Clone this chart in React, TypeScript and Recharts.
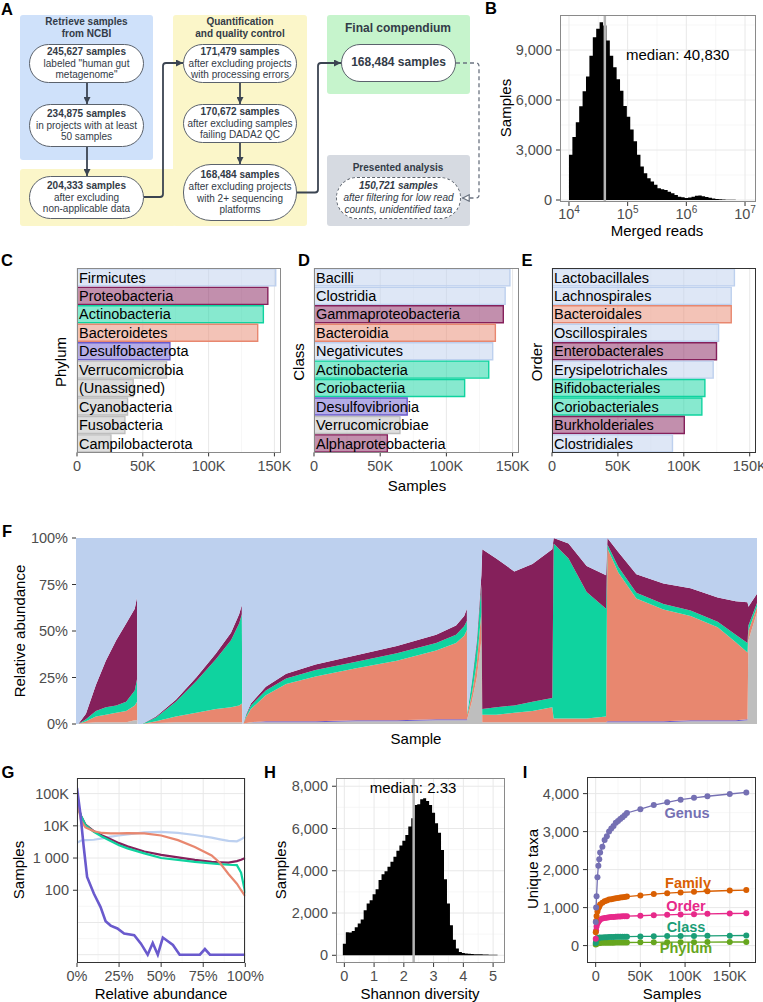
import React from 'react'
import {
  AreaChart, Area, BarChart, Bar, Cell, LabelList, LineChart, Line,
  XAxis, YAxis, CartesianGrid, ReferenceLine,
} from 'recharts'

const FONT = '"Liberation Sans", Arial, Helvetica, sans-serif'

// taxon colours (F uses them solid, C/D/E at half opacity)
const TAXA_COL: Record<string, string> = {
  fir: '#bdd0ee', pro: '#85205b', act: '#0fd39f', bac: '#e8876f', des: '#6a5acd', oth: '#bebebe',
}

// ---- B: merged reads histogram (log10 bins)
const readsBinStart = 4.0
const readsBinWidth = 0.058
const readsCounts = [
  2710, 3780, 4670, 5630, 6520, 7410, 8660, 9770, 10270, 10670,
  10470, 9570, 8660, 7960, 7250, 6550, 5640, 5000, 4230, 3530,
  2720, 2010, 1610, 1310, 1110, 910, 710, 650, 600, 500,
  400, 300, 200, 160, 120, 150, 200, 250, 270, 230,
  180, 130, 90, 60, 40, 30, 20, 15, 10, 5,
]
const readsMedian = 40830

// ---- C/D/E: samples containing each taxon
const phylumNames = ['Firmicutes', 'Proteobacteria', 'Actinobacteria', 'Bacteroidetes', 'Desulfobacterota', 'Verrucomicrobia', '(Unassigned)', 'Cyanobacteria', 'Fusobacteria', 'Campilobacterota']
const phylumSamples = [151000, 145000, 141600, 137300, 70600, 68000, 42700, 38400, 36400, 25800]
const phylumGroup = ['fir', 'pro', 'act', 'bac', 'des', 'oth', 'oth', 'oth', 'oth', 'oth']

const classNames = ['Bacilli', 'Clostridia', 'Gammaproteobacteria', 'Bacteroidia', 'Negativicutes', 'Actinobacteria', 'Coriobacteriia', 'Desulfovibrionia', 'Verrucomicrobiae', 'Alphaproteobacteria']
const classSamples = [148000, 144400, 143000, 137000, 135000, 132000, 113800, 70400, 64900, 55400]
const classGroup = ['fir', 'fir', 'pro', 'bac', 'fir', 'act', 'act', 'des', 'oth', 'pro']

const orderNames = ['Lactobacillales', 'Lachnospirales', 'Bacteroidales', 'Oscillospirales', 'Enterobacterales', 'Erysipelotrichales', 'Bifidobacteriales', 'Coriobacteriales', 'Burkholderiales', 'Clostridiales']
const orderSamples = [138400, 136000, 136000, 126400, 124800, 122300, 116000, 113700, 100400, 91400]
const orderGroup = ['fir', 'fir', 'bac', 'fir', 'pro', 'fir', 'act', 'act', 'pro', 'fir']

// ---- F: relative abundance per sample (samples in thousands, % per phylum)
const fSample = [0, 0.5, 2.2, 4.4, 6.6, 8.9, 11.1, 13.0, 13.5, 13.6, 14.6, 17.7, 22.1, 26.6, 31.0, 34.3, 36.1, 36.7, 36.8, 37.0, 37.6, 38.7, 42, 46.5, 53, 62, 71, 79.7, 84.1, 85.9, 86.5, 86.6, 87.6, 88.7, 89.7, 89.9, 93, 97, 101, 105.4, 105.7, 109, 113, 117.3, 117.6, 120, 124, 130, 136, 142, 146, 148.6, 148.8, 150.7]
const fOther = [0, 0, 0.5, 1, 1, 1, 1, 2, 2, 0, 0, 0.5, 1, 1, 1, 1, 1, 1, 0, 0, 0.5, 1, 1, 1, 1, 1.5, 1.5, 2, 2, 2, 2, 3, 12, 25, 45, 1, 1, 1, 1, 1, 1, 1, 1, 1, 1, 1, 1, 1, 1.5, 1.5, 1.5, 2, 45, 60]
const fDesulfo = [0, 0, 0, 0, 0, 0, 0, 0, 0, 0, 0, 0, 0, 0, 0, 0, 0, 0, 0, 0, 0, 0, 0.5, 0.5, 0.5, 0.5, 0.5, 0.5, 0.5, 0.5, 0.5, 0, 0, 0, 0, 0, 0, 0, 0, 0, 0, 0, 0, 0, 0.5, 0.5, 0.5, 0.5, 0.5, 0.5, 0.5, 0.5, 0, 0]
const fBactero = [0, 0, 1, 3, 4, 5, 6, 8, 10, 0, 0, 1, 3, 5, 7, 8, 9, 10, 0, 0, 3, 7, 14, 20, 24, 28, 32, 37, 41, 45, 48, 2, 4, 8, 15, 4, 4, 5, 6, 8, 2, 2, 2, 3, 93, 80, 66, 60, 56, 50, 42, 36, 5, 3]
const fActino = [0, 0, 1, 3, 4, 4, 5, 8, 12, 0, 0, 2, 8, 17, 27, 36, 44, 48, 0, 0, 1, 2, 2.5, 3, 3.5, 3.5, 4, 4, 4.5, 5, 5, 1, 6, 10, 15, 3, 4, 4, 5, 5, 94, 86, 68, 58, 2, 3, 3, 3, 3, 3, 4, 5, 3, 2]
const fProteo = [0, 0, 3, 14, 25, 35, 42, 44, 44, 0, 0, 0.5, 1, 2, 3, 4, 5, 5, 0, 0, 0.5, 1, 2, 2.5, 3, 3.5, 4, 4.5, 5, 5.5, 6.5, 0, 1, 2, 5, 86, 80, 72, 74, 80, 3, 8, 14, 18, 3.5, 8, 10, 11, 12, 13, 18, 22, 10, 5]
const fFirmi = [100, 100, 94.5, 79, 66, 55, 46, 38, 32, 100, 100, 96, 87, 75, 62, 51, 41, 36, 100, 100, 95, 89, 80, 73, 68, 63, 58, 52, 47, 42, 38, 94, 77, 55, 20, 6, 11, 18, 14, 6, 0, 3, 15, 20, 0, 7.5, 19.5, 24.5, 27, 32, 34, 34.5, 37, 30]

// ---- G: samples per relative-abundance level
const gAbund = [0, 2.5, 5, 10, 15, 20, 25, 30, 40, 50, 60, 70, 80, 85, 90, 95, 97.5, 100]
const gFirmi = [3000, 3500, 3600, 3700, 4100, 4600, 5000, 5400, 6300, 6500, 6000, 5200, 4300, 3800, 3400, 3300, 3800, 4600]
const gProteo = [50000, 20000, 11000, 6800, 5000, 3800, 2900, 2300, 1600, 1250, 1050, 880, 760, 740, 720, 800, 880, 1000]
const gActino = [40000, 20000, 10500, 6500, 4600, 3400, 2500, 2000, 1400, 1000, 880, 760, 680, 650, 620, 600, 350, 80]
const gBactero = [60000, 14000, 9000, 6800, 6000, 5800, 5800, 5900, 5800, 5000, 3600, 2200, 1200, 700, 320, 160, 100, 65]
const gDesulfoAbund = [0, 2, 4, 6, 10, 14, 17, 20, 24, 28, 34, 38, 42, 45, 48, 51, 57, 61, 73, 76, 79, 100]
const gDesulfo = [150000, 24000, 2200, 260, 79, 30, 11, 8, 6.5, 4.5, 4, 2.2, 1, 2.3, 1, 3.4, 2, 1, 1, 1.5, 1, 1]

// ---- H: Shannon diversity histogram
const shannonBinStart = -0.05
const shannonBinWidth = 0.1
const shannonCounts = [
  550, 1090, 1075, 1150, 1330, 1500, 1690, 2130, 2450, 2610,
  2890, 3130, 3560, 3830, 3980, 4190, 4430, 4660, 4950, 5190,
  5420, 5690, 6090, 6480, 7110, 7150, 7380, 7430, 7300, 7110,
  6750, 6250, 5800, 4980, 3600, 2450, 1420, 740, 320, 160,
  110, 80, 70, 60, 55, 50, 45, 40, 35, 30, 25, 20,
]
const shannonMedian = 2.33

// ---- I: unique taxa vs number of samples
const iSamples = [100, 500, 1000, 2000, 3000, 4000, 5000, 7500, 10000, 12500, 15000, 17500, 20000, 22500, 25000, 27500, 30000, 32500, 35000, 50000, 65000, 80000, 95000, 110000, 125000, 150000, 168484]
const iGenus = [620, 1000, 1300, 1800, 2100, 2270, 2450, 2600, 2780, 2880, 3000, 3080, 3150, 3230, 3280, 3330, 3380, 3430, 3490, 3590, 3700, 3770, 3840, 3890, 3930, 3990, 4030]
const iFamily = [350, 650, 780, 900, 980, 1030, 1080, 1130, 1170, 1190, 1210, 1220, 1235, 1245, 1255, 1265, 1275, 1280, 1290, 1320, 1355, 1380, 1400, 1415, 1430, 1450, 1460]
const iOrder = [180, 400, 500, 580, 630, 660, 690, 710, 725, 735, 745, 750, 755, 760, 765, 768, 770, 773, 775, 785, 800, 810, 820, 828, 835, 845, 850]
const iClass = [70, 130, 160, 185, 200, 205, 210, 215, 220, 222, 225, 227, 228, 230, 231, 232, 233, 234, 235, 240, 245, 250, 252, 255, 258, 262, 265]
const iPhylum = [30, 45, 52, 60, 64, 67, 70, 73, 75, 76, 77, 78, 78, 79, 79, 80, 80, 81, 82, 85, 87, 89, 90, 91, 92, 94, 95]

const I_COL = { genus: '#7570b3', family: '#d95f02', order: '#e7298a', class: '#1b9e77', phylum: '#66a61e' }

// ---------- helpers
const YW = 52
const XH = 26
const MT = 12
const MR = 22

function frame(l: number, t: number, r: number, b: number) {
  return {
    wrap: { position: 'absolute', left: l - YW, top: t - MT } as React.CSSProperties,
    width: YW + (r - l) + MR,
    height: MT + (b - t) + XH,
    margin: { top: MT, right: MR, bottom: 0, left: 0 },
  }
}

const tickStyle = { fill: '#4d4d4d', fontSize: 14.5 }
const tickLine = { stroke: '#333' }
const xAx = { tickSize: 4, tickMargin: 4, axisLine: false, tickLine, tick: tickStyle, height: XH, interval: 0 as const, allowDataOverflow: true }
const yAx = { tickSize: 4, tickMargin: 4, axisLine: false, tickLine, tick: tickStyle, width: YW, interval: 0 as const, allowDataOverflow: true }

const comma = (v: number) => v.toLocaleString('en-US')
const kfmt = (v: number) => (v === 0 ? '0' : `${v / 1000}K`)

function T({ x, y, children, size = 15, rot = 0, color = '#000', bold = false, italic = false, anchor = 'middle' }: any) {
  const tx = anchor === 'middle' ? '-50%' : anchor === 'end' ? '-100%' : '0'
  return (
    <div style={{
      position: 'absolute', left: x, top: y, transform: `translate(${tx},-50%) rotate(${rot}deg)`,
      fontSize: size, lineHeight: 1, color, fontWeight: bold ? 700 : 400,
      fontStyle: italic ? 'italic' : 'normal', whiteSpace: 'nowrap',
    }}>{children}</div>
  )
}

function Border({ l, t, r, b, color = '#8a8a8a', w = 1.5 }: any) {
  return <div style={{ position: 'absolute', left: l, top: t, width: r - l, height: b - t, border: `${w}px solid ${color}`, boxSizing: 'border-box', pointerEvents: 'none' }} />
}

function PowTick(props: any) {
  const { x, y, payload } = props
  return (
    <text x={x} y={y} dy="0.71em" textAnchor="middle" fill="#4d4d4d" fontSize={14.5}>
      10<tspan dy={-6} fontSize={10}>{payload.value}</tspan>
    </text>
  )
}

// ---------- A: flowchart
const SLATE = '#333b47'

function Pill({ l, t, w, h, lines, dashed = false, italic = false, size = 10 }: any) {
  return (
    <div style={{
      position: 'absolute', left: l, top: t, width: w, height: h, boxSizing: 'border-box',
      background: '#fff', border: `1px ${dashed ? 'dashed' : 'solid'} #5b626c`, borderRadius: 28,
      display: 'flex', flexDirection: 'column', alignItems: 'center', justifyContent: 'center',
      color: SLATE, fontSize: size, lineHeight: '11.7px', fontStyle: italic ? 'italic' : 'normal', textAlign: 'center',
    }}>
      {lines.map((s: string, i: number) => (
        <div key={i} style={{ fontWeight: i === 0 ? 700 : 400, whiteSpace: 'nowrap' }}>{s}</div>
      ))}
    </div>
  )
}

function Box({ l, t, r, b, bg }: any) {
  return <div style={{ position: 'absolute', left: l, top: t, width: r - l, height: b - t, background: bg, borderRadius: 3 }} />
}

function Flowchart() {
  return (
    <>
      <Box l={20} t={15} r={153} b={160} bg="#cfe1fa" />
      <Box l={173} t={15} r={307} b={226} bg="#fbf6c9" />
      <Box l={20} t={169} r={176} b={226} bg="#fbf6c9" />
      <Box l={327} t={15} r={470} b={94} bg="#c6f4cc" />
      <Box l={327} t={155} r={470} b={226} bg="#d6dae1" />
      <div style={{ position: 'absolute', left: 20, top: 16, width: 133, textAlign: 'center', fontSize: 10, lineHeight: '11.5px', fontWeight: 700, color: SLATE }}>Retrieve samples<br />from NCBI</div>
      <div style={{ position: 'absolute', left: 173, top: 16, width: 134, textAlign: 'center', fontSize: 10, lineHeight: '11.5px', fontWeight: 700, color: SLATE }}>Quantification<br />and quality control</div>
      <T x={398} y={28} size={12} bold color={SLATE}>Final compendium</T>
      <T x={398} y={168} size={10} bold color={SLATE}>Presented analysis</T>
      <Pill l={29} t={44} w={115} h={39} lines={['245,627 samples', 'labeled "human gut', 'metagenome"']} />
      <Pill l={29} t={104} w={115} h={43} lines={['234,875 samples', 'in projects with at least', '50 samples']} />
      <Pill l={29} t={176} w={115} h={43} lines={['204,333 samples', 'after excluding', 'non-applicable data']} />
      <Pill l={183} t={44} w={114} h={39} lines={['171,479 samples', 'after excluding projects', 'with processing errors']} />
      <Pill l={183} t={104} w={114} h={39} lines={['170,672 samples', 'after excluding samples', 'failing DADA2 QC']} />
      <Pill l={183} t={164} w={114} h={57} lines={['168,484 samples', 'after excluding projects', 'with 2+ sequencing', 'platforms']} />
      <Pill l={341} t={44} w={115} h={38} size={12} lines={['168,484 samples']} />
      <Pill l={336} t={177} w={125} h={42} dashed italic lines={['150,721 samples', 'after filtering for low read', 'counts, unidentified taxa']} />
      <svg width={490} height={230} style={{ position: 'absolute', left: 0, top: 0, overflow: 'visible' }}>
        <defs>
          <marker id="ah" viewBox="0 0 10 10" refX="10" refY="5" markerWidth="7" markerHeight="7" markerUnits="userSpaceOnUse" orient="auto">
            <path d="M0,0 L10,5 L0,10 z" fill="#3b4451" />
          </marker>
          <marker id="ah2" viewBox="0 0 10 10" refX="10" refY="5" markerWidth="8" markerHeight="8" markerUnits="userSpaceOnUse" orient="auto">
            <path d="M1,1 L9,5 L1,9 z" fill="#fff" stroke="#6b7380" strokeWidth="1.5" />
          </marker>
        </defs>
        <g fill="none" stroke="#3b4451" strokeWidth={1.8}>
          <path d="M87,83 V104" markerEnd="url(#ah)" />
          <path d="M87,147 V176" markerEnd="url(#ah)" />
          <path d="M240,83 V104" markerEnd="url(#ah)" />
          <path d="M240,143 V164" markerEnd="url(#ah)" />
          <path d="M144,197 H160 Q163,197 163,194 V66 Q163,63 166,63 H183" markerEnd="url(#ah)" />
          <path d="M297,192.5 H315 Q318,192.5 318,189.5 V66 Q318,63 321,63 H341" markerEnd="url(#ah)" />
        </g>
        <path d="M456,63 H476 Q479,63 479,66 V195 Q479,198 476,198 H462" fill="none" stroke="#6b7380" strokeWidth={1.3} strokeDasharray="4 3" markerEnd="url(#ah2)" />
      </svg>
    </>
  )
}

// ---------- B
function PanelB() {
  const f = frame(560, 15, 756, 202)
  const data = readsCounts.map((n, i) => ({ lx: readsBinStart + i * readsBinWidth, n }))
  data.push({ lx: readsBinStart + readsCounts.length * readsBinWidth, n: readsCounts[readsCounts.length - 1] })
  return (
    <div style={f.wrap}>
      <AreaChart width={f.width} height={f.height} margin={f.margin} data={data}>
        <CartesianGrid verticalValues={[4.5, 5.5, 6.5]} horizontalValues={[1500, 4500, 7500, 10500]} stroke="#f3f3f3" strokeWidth={0.7} />
        <CartesianGrid verticalValues={[4, 5, 6, 7]} horizontalValues={[0, 3000, 6000, 9000]} stroke="#e8e8e8" />
        <XAxis type="number" dataKey="lx" domain={[3.847, 7.187]} ticks={[4, 5, 6, 7]} {...xAx} tickMargin={3} tick={<PowTick />} />
        <YAxis type="number" domain={[-120, 11100]} ticks={[0, 3000, 6000, 9000]} tickFormatter={comma} {...yAx} />
        <Area type="stepAfter" dataKey="n" baseValue={0} fill="#000" fillOpacity={1} stroke="none" isAnimationActive={false} />
        <ReferenceLine x={Math.log10(readsMedian)} stroke="#b5b5b5" strokeWidth={2.5} />
      </AreaChart>
    </div>
  )
}

// ---------- C/D/E
function TaxaBars({ names, samples, groups, l, r }: any) {
  const f = frame(l, 268.3, r, 452.7)
  const data = names.map((name: string, i: number) => ({ name, n: samples[i], g: groups[i] }))
  return (
    <div style={f.wrap}>
      <BarChart layout="vertical" width={f.width} height={f.height} margin={f.margin} data={data} barCategoryGap="5%">
        <CartesianGrid horizontal={false} verticalValues={[25000, 75000, 125000]} stroke="#f3f3f3" strokeWidth={0.7} />
        <CartesianGrid horizontal={false} verticalValues={[0, 50000, 100000, 150000]} stroke="#e8e8e8" />
        <XAxis type="number" domain={[0, 155000]} ticks={[0, 50000, 100000, 150000]} tickFormatter={kfmt} {...xAx} />
        <YAxis type="category" dataKey="name" width={YW} tick={false} tickLine={false} axisLine={false} />
        <Bar dataKey="n" isAnimationActive={false}>
          {data.map((d: any, i: number) => (
            <Cell key={i} fill={TAXA_COL[d.g]} fillOpacity={0.5} stroke={TAXA_COL[d.g]} strokeWidth={1.4} />
          ))}
          <LabelList dataKey="name" position="insideLeft" offset={2} fill="#000" stroke="none" fontSize={14.5} />
        </Bar>
      </BarChart>
    </div>
  )
}

// ---------- F
function PanelF() {
  const f = frame(76, 538.3, 757, 724.3)
  const data = fSample.map((x, i) => ({
    x, oth: fOther[i], des: fDesulfo[i], bac: fBactero[i], act: fActino[i], pro: fProteo[i], fir: fFirmi[i],
  }))
  const layers = ['oth', 'des', 'bac', 'act', 'pro', 'fir']
  return (
    <div style={f.wrap}>
      <AreaChart width={f.width} height={f.height} margin={f.margin} data={data}>
        <XAxis type="number" dataKey="x" domain={[0, 150.7]} tick={false} tickLine={false} axisLine={false} height={XH} allowDataOverflow />
        <YAxis type="number" domain={[0, 100]} ticks={[0, 25, 50, 75, 100]} tickFormatter={(v: number) => `${v}%`} {...yAx} />
        {layers.map((k) => (
          <Area key={k} type="linear" dataKey={k} stackId="s" fill={TAXA_COL[k]} fillOpacity={1} stroke="none" isAnimationActive={false} />
        ))}
      </AreaChart>
    </div>
  )
}

// ---------- G
function PanelG() {
  const f = frame(76.7, 777.7, 245, 962.7)
  const mk = (ys: number[], xs: number[]) => xs.map((x, i) => ({ x, y: ys[i] }))
  const series = [
    { k: 'fir', d: mk(gFirmi, gAbund) },
    { k: 'pro', d: mk(gProteo, gAbund) },
    { k: 'act', d: mk(gActino, gAbund) },
    { k: 'bac', d: mk(gBactero, gAbund) },
    { k: 'des', d: mk(gDesulfo, gDesulfoAbund) },
  ]
  const ylab: Record<number, string> = { 100: '100', 1000: '1 000', 10000: '10K', 100000: '100K' }
  return (
    <div style={f.wrap}>
      <LineChart width={f.width} height={f.height} margin={f.margin}>
        <CartesianGrid verticalValues={[12.5, 37.5, 62.5, 87.5]} horizontalValues={[3.162, 31.62, 316.2, 3162, 31623]} stroke="#f3f3f3" strokeWidth={0.7} />
        <CartesianGrid verticalValues={[0, 25, 50, 75, 100]} horizontalValues={[1, 10, 100, 1000, 10000, 100000]} stroke="#e8e8e8" />
        <XAxis type="number" dataKey="x" domain={[0, 100]} ticks={[0, 25, 50, 75, 100]} tickFormatter={(v: number) => `${v}%`} {...xAx} />
        <YAxis type="number" scale="log" domain={[0.552, 305000]} ticks={[100, 1000, 10000, 100000]} tickFormatter={(v: number) => ylab[v]} {...yAx} />
        {series.map((s) => (
          <Line key={s.k} data={s.d} dataKey="y" type="linear" stroke={s.k === 'fir' ? '#bcd0f0' : TAXA_COL[s.k]} strokeWidth={s.k === 'des' ? 2.6 : 2.2} dot={false} isAnimationActive={false} />
        ))}
      </LineChart>
    </div>
  )
}

// ---------- H
function PanelH() {
  const f = frame(336, 777.7, 505, 962.7)
  const data = shannonCounts.map((n, i) => ({ x: shannonBinStart + i * shannonBinWidth, n }))
  data.push({ x: shannonBinStart + shannonCounts.length * shannonBinWidth, n: shannonCounts[shannonCounts.length - 1] })
  return (
    <div style={f.wrap}>
      <AreaChart width={f.width} height={f.height} margin={f.margin} data={data}>
        <CartesianGrid verticalValues={[0.5, 1.5, 2.5, 3.5, 4.5]} horizontalValues={[1000, 3000, 5000, 7000]} stroke="#f3f3f3" strokeWidth={0.7} />
        <CartesianGrid verticalValues={[0, 1, 2, 3, 4, 5]} horizontalValues={[0, 2000, 4000, 6000, 8000]} stroke="#e8e8e8" />
        <XAxis type="number" dataKey="x" domain={[-0.28, 5.4]} ticks={[0, 1, 2, 3, 4, 5]} {...xAx} />
        <YAxis type="number" domain={[-365, 8390]} ticks={[0, 2000, 4000, 6000, 8000]} tickFormatter={comma} {...yAx} />
        <Area type="stepAfter" dataKey="n" baseValue={0} fill="#000" fillOpacity={1} stroke="none" isAnimationActive={false} />
        <ReferenceLine x={shannonMedian} stroke="#b5b5b5" strokeWidth={2.5} />
      </AreaChart>
    </div>
  )
}

// ---------- I
function PanelI() {
  const f = frame(587.3, 776.7, 756, 962.7)
  const data = iSamples.map((s, i) => ({
    s, genus: iGenus[i], family: iFamily[i], order: iOrder[i], class: iClass[i], phylum: iPhylum[i],
  }))
  const keys = ['phylum', 'class', 'order', 'family', 'genus']
  return (
    <div style={f.wrap}>
      <LineChart width={f.width} height={f.height} margin={f.margin} data={data}>
        <CartesianGrid verticalValues={[25000, 75000, 125000, 175000]} horizontalValues={[500, 1500, 2500, 3500]} stroke="#f3f3f3" strokeWidth={0.7} />
        <CartesianGrid verticalValues={[0, 50000, 100000, 150000]} horizontalValues={[0, 1000, 2000, 3000, 4000]} stroke="#e8e8e8" />
        <XAxis type="number" dataKey="s" domain={[-9700, 179000]} ticks={[0, 50000, 100000, 150000]} tickFormatter={kfmt} {...xAx} />
        <YAxis type="number" domain={[-458, 4437]} ticks={[0, 1000, 2000, 3000, 4000]} tickFormatter={comma} {...yAx} />
        {keys.map((k) => (
          <Line key={k} dataKey={k} type="linear" stroke={(I_COL as any)[k]} strokeWidth={1.3}
            dot={{ r: 3, fill: (I_COL as any)[k], stroke: (I_COL as any)[k], strokeWidth: 0 }} isAnimationActive={false} />
        ))}
      </LineChart>
    </div>
  )
}

export default function App() {
  return (
    <div style={{ position: 'absolute', left: 0, top: 0, width: 763, height: 1002, background: '#fff', fontFamily: FONT, overflow: 'hidden' }}>
      <Flowchart />

      <PanelB />
      <Border l={560} t={15} r={756} b={202} />
      <T x={626} y={54} anchor="start" size={15}>median: 40,830</T>
      <T x={505} y={108} rot={-90}>Samples</T>
      <T x={657} y={230}>Merged reads</T>

      <TaxaBars names={phylumNames} samples={phylumSamples} groups={phylumGroup} l={77} r={281} />
      <TaxaBars names={classNames} samples={classSamples} groups={classGroup} l={313.5} r={518.7} />
      <TaxaBars names={orderNames} samples={orderSamples} groups={orderGroup} l={551.7} r={756} />
      <Border l={77} t={268.3} r={281} b={452.7} />
      <Border l={313.5} t={268.3} r={518.7} b={452.7} />
      <Border l={551.7} t={268.3} r={756} b={452.7} color="#333" w={1} />
      <T x={60} y={362} rot={-90}>Phylum</T>
      <T x={298} y={362} rot={-90}>Class</T>
      <T x={536} y={362} rot={-90}>Order</T>
      <T x={417} y={485}>Samples</T>

      <PanelF />
      <T x={19} y={631} rot={-90}>Relative abundance</T>
      <T x={416} y={738}>Sample</T>

      <PanelG />
      <Border l={76.7} t={777.7} r={245} b={962.7} color="#333" w={1} />
      <T x={18} y={870} rot={-90}>Samples</T>
      <T x={161} y={993}>Relative abundance</T>

      <PanelH />
      <Border l={336} t={777.7} r={505} b={962.7} />
      <T x={413} y={787}>median: 2.33</T>
      <T x={280} y={870} rot={-90}>Samples</T>
      <T x={420} y={993}>Shannon diversity</T>

      <PanelI />
      <Border l={587.3} t={776.7} r={756} b={962.7} color="#333" w={1} />
      <T x={687} y={813} size={14.5} bold color={I_COL.genus}>Genus</T>
      <T x={688} y={883} size={14.5} bold color={I_COL.family}>Family</T>
      <T x={686} y={906} size={14.5} bold color={I_COL.order}>Order</T>
      <T x={686} y={927} size={14.5} bold color={I_COL.class}>Class</T>
      <T x={686} y={948} size={14.5} bold color={I_COL.phylum}>Phylum</T>
      <T x={532} y={869} rot={-90}>Unique taxa</T>
      <T x={672} y={993}>Samples</T>

      <T x={7} y={9} size={16.5} bold>A</T>
      <T x={491} y={8} size={16.5} bold>B</T>
      <T x={7} y={260} size={16.5} bold>C</T>
      <T x={304} y={260} size={16.5} bold>D</T>
      <T x={527} y={260} size={16.5} bold>E</T>
      <T x={7} y={531} size={16.5} bold>F</T>
      <T x={8} y={772} size={16.5} bold>G</T>
      <T x={270} y={772} size={16.5} bold>H</T>
      <T x={525} y={772} size={16.5} bold>I</T>
    </div>
  )
}
